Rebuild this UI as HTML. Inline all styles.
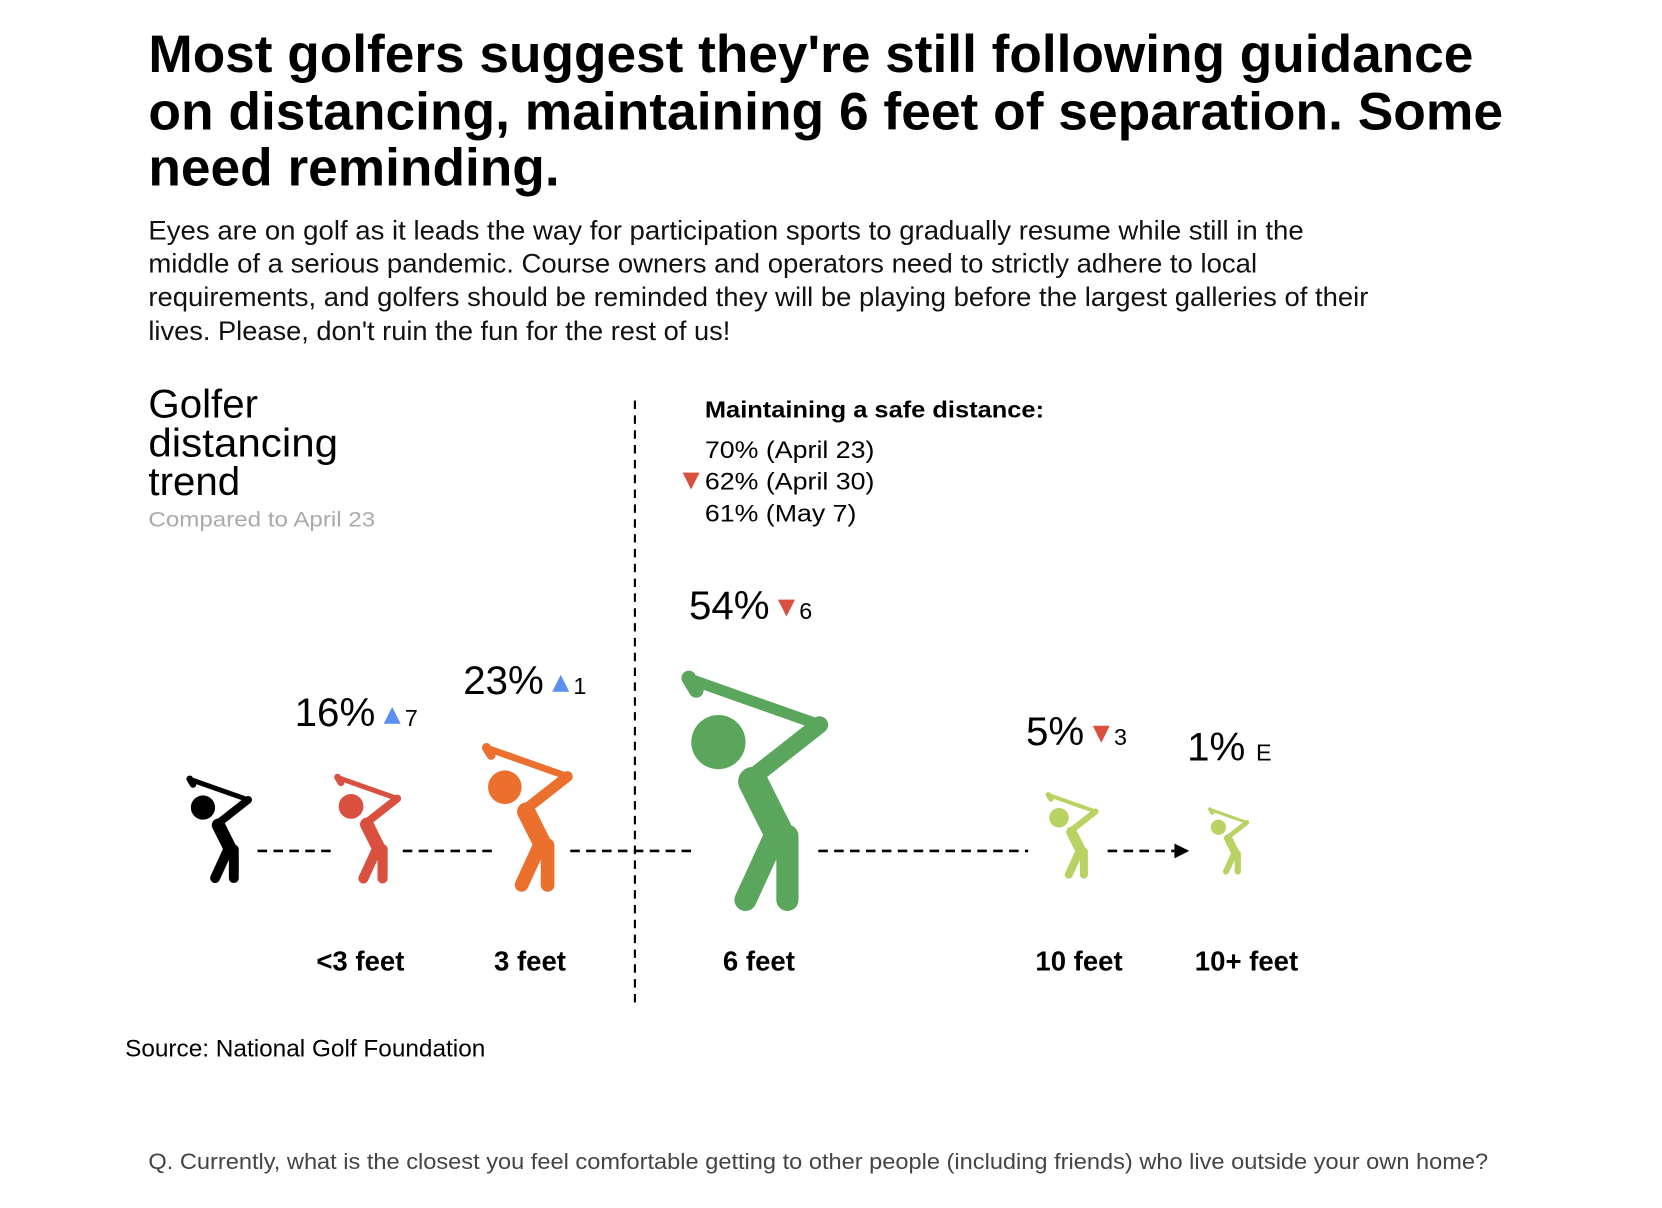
<!DOCTYPE html>
<html><head><meta charset="utf-8">
<style>
html,body{margin:0;padding:0;background:#fff;}
svg{display:block;}
text{font-family:"Liberation Sans",sans-serif;}
</style></head>
<body>
<svg id="chart" width="1662" height="1208" viewBox="0 0 1568 1140" preserveAspectRatio="none" xmlns="http://www.w3.org/2000/svg">
<g font-weight="bold" font-size="50" fill="#000">
<text x="140" y="68" textLength="1250" lengthAdjust="spacingAndGlyphs">Most golfers suggest they're still following guidance</text>
<text x="140" y="122" textLength="1278" lengthAdjust="spacingAndGlyphs">on distancing, maintaining 6 feet of separation. Some</text>
<text x="140" y="175" textLength="388" lengthAdjust="spacingAndGlyphs">need reminding.</text>
</g>
<g font-size="25" fill="#111">
<text x="140" y="226" textLength="1090" lengthAdjust="spacingAndGlyphs">Eyes are on golf as it leads the way for participation sports to gradually resume while still in the</text>
<text x="140" y="257" textLength="1046" lengthAdjust="spacingAndGlyphs">middle of a serious pandemic. Course owners and operators need to strictly adhere to local</text>
<text x="140" y="289" textLength="1151" lengthAdjust="spacingAndGlyphs">requirements, and golfers should be reminded they will be playing before the largest galleries of their</text>
<text x="140" y="321" textLength="549" lengthAdjust="spacingAndGlyphs">lives. Please, don't ruin the fun for the rest of us!</text>
</g>
<g font-size="38" fill="#000">
<text x="140" y="394">Golfer</text>
<text x="140" y="431" textLength="179" lengthAdjust="spacingAndGlyphs">distancing</text>
<text x="140" y="467">trend</text>
<text x="140" y="497" font-size="20" fill="#aaa" textLength="214" lengthAdjust="spacingAndGlyphs">Compared to April 23</text>
</g>
<line x1="599" y1="378" x2="599" y2="948" stroke="#000" stroke-width="2" stroke-dasharray="8,6"/>
<g font-size="23" fill="#000">
<text x="665" y="394" font-weight="bold" font-size="22" textLength="320" lengthAdjust="spacingAndGlyphs">Maintaining a safe distance:</text>
<text x="665" y="432" textLength="160" lengthAdjust="spacingAndGlyphs">70% (April 23)</text>
<polygon points="644,446 660,446 652,462" fill="#d9503f"/>
<text x="665" y="462" textLength="160" lengthAdjust="spacingAndGlyphs">62% (April 30)</text>
<text x="665" y="492" textLength="143" lengthAdjust="spacingAndGlyphs">61% (May 7)</text>
</g>
<g id="conn" stroke="#000" stroke-width="2.5" stroke-dasharray="9,6">
<line x1="243" y1="803" x2="315" y2="803"/>
<line x1="380" y1="803" x2="465" y2="803"/>
<line x1="538" y1="803" x2="657" y2="803"/>
<line x1="772" y1="803" x2="970" y2="803"/>
<line x1="1045" y1="803" x2="1108" y2="803"/>
</g>
<polygon points="1108,796 1122,803 1108,810" fill="#000"/>
<g id="marks"></g>
<text x="118" y="997" font-size="23" fill="#000">Source: National Golf Foundation</text>
<text x="140" y="1103" font-size="21" fill="#444" textLength="1264" lengthAdjust="spacingAndGlyphs">Q. Currently, what is the closest you feel comfortable getting to other people (including friends) who live outside your own home?</text>
</svg>
<script>
const categories = ["<3 feet","3 feet","6 feet","10 feet","10+ feet"];
const values = [16,23,54,5,1];
const changes = [7,1,-6,-3,0];
const colors = ["#d9503f","#ec702d","#5aa65c","#b8d263","#b8d263"];
const layoutX = [345,495,708,1010,1158];
const labelX = [340,500,716,1018,1176];
const labelOffset = [67,58,58,42,38];
const NS="http://www.w3.org/2000/svg";
const marks=document.getElementById('marks');
function hScale(v){return 55+8*Math.sqrt(v)+2.2*v - (v>10&&v<20?16:0);}
function bottomFor(h){return 812+0.2*h;}
function golfer(cx,h,color,name){
  const g=document.createElementNS(NS,'g');
  
  
  const bottom=bottomFor(h);
  const s=h/100, w=56*s, x0=cx-w/2, y0=bottom-h;
  const P=(x,y)=>[x0+x*s,y0+y*s];
  const seg=(a,b,t)=>{const l=document.createElementNS(NS,'line');const p=P(...a),q=P(...b);
    l.setAttribute('x1',p[0]);l.setAttribute('y1',p[1]);l.setAttribute('x2',q[0]);l.setAttribute('y2',q[1]);
    l.setAttribute('stroke',color);l.setAttribute('stroke-width',t*s);l.setAttribute('stroke-linecap','round');g.appendChild(l);};
  seg([5,7],[56,25],4.5);
  seg([3,6],[6,11],6);
  seg([56,25],[28,47],7);
  seg([29,48],[40,70],12);
  seg([37,72],[26,96],9);
  seg([43,70],[43,96],9);
  const c=document.createElementNS(NS,'circle');const hc=P(15,32);
  c.setAttribute('cx',hc[0]);c.setAttribute('cy',hc[1]);c.setAttribute('r',11*s);c.setAttribute('fill',color);g.appendChild(c);
  marks.appendChild(g);
  return y0;
}
golfer(205,104,'#000','reference-golfer');
values.forEach((v,i)=>{
  const h=hScale(v);
  const top=golfer(layoutX[i],h,colors[i],'golfer-'+i);
  const by=top-42;
  const lx=layoutX[i]-labelOffset[i];
  const t=document.createElementNS(NS,'text');
  
  
  t.setAttribute('x',lx);t.setAttribute('y',by);t.setAttribute('font-size','38');t.textContent=v+'%';
  marks.appendChild(t);
  const tw=String(v).length*21+34;
  const ax=lx+tw+16;
  if(changes[i]!==0){
    const tri=document.createElementNS(NS,'polygon');
    
    
    const up=changes[i]>0;
    tri.setAttribute('points',up?`${ax-8},${by-2} ${ax+8},${by-2} ${ax},${by-18}`:`${ax-8},${by-18} ${ax+8},${by-18} ${ax},${by-2}`);
    tri.setAttribute('fill',up?'#5b8ef0':'#d9503f');
    marks.appendChild(tri);
  }
  const ct=document.createElementNS(NS,'text');
  
  
  ct.setAttribute('x',changes[i]===0?ax-6:ax+12);ct.setAttribute('y',by);ct.setAttribute('font-size','22');
  ct.textContent=changes[i]===0?'E':Math.abs(changes[i]);
  marks.appendChild(ct);
  const cl=document.createElementNS(NS,'text');
  
  
  cl.setAttribute('x',labelX[i]);cl.setAttribute('y',916);cl.setAttribute('font-size','26');
  cl.setAttribute('text-anchor','middle');cl.setAttribute('font-weight','bold');cl.textContent=categories[i];
  marks.appendChild(cl);
});
</script>
</body></html>
